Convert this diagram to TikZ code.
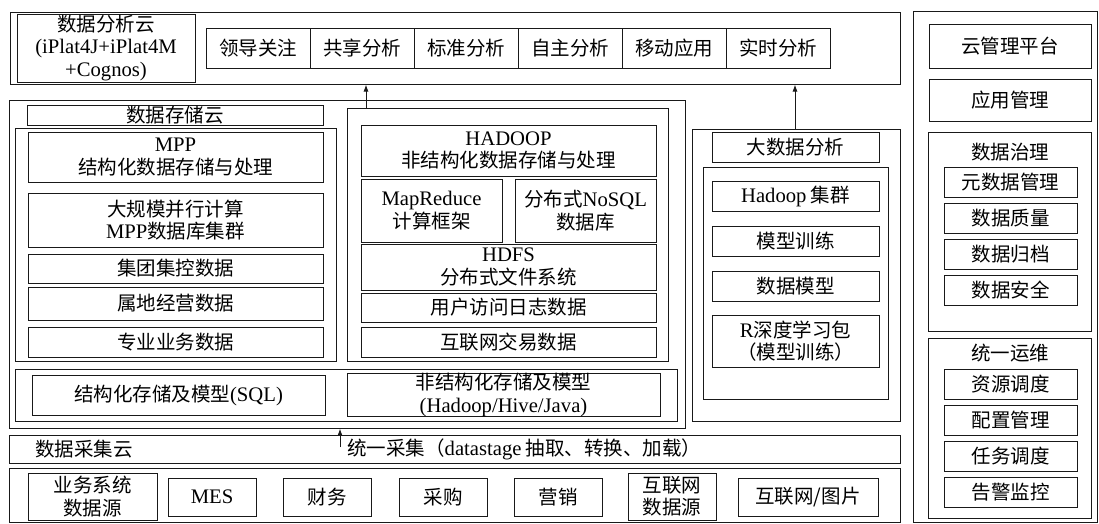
\documentclass[tikz,border=0pt]{standalone}
\usepackage{fontspec}
\setmainfont{Noto Sans CJK SC}
\newfontfamily\tm[Scale=1.06]{Liberation Serif}
\usetikzlibrary{arrows.meta}
\tikzset{
  bx/.style={draw=black!90, line width=1pt, inner sep=0pt, align=center, font=\fontsize{19.5}{22.5}\selectfont},
  lbl/.style={inner sep=0pt, font=\fontsize{19.5}{22.5}\selectfont},
  arr/.style={draw=black!90, line width=1pt, -{Latex[length=7pt,width=5pt]}},
}
\newcommand\bx[6]{\node[bx, minimum width={#4-#2}, minimum height={#5-#3}] (#1) at ({(#2+#4)/2},{(#3+#5)/2}) {#6};}
\begin{document}
\begin{tikzpicture}[x=1pt,y=-1pt]
\fill[white] (0,0) rectangle (1099,523);
\useasboundingbox (0,0) rectangle (1099,523);
% top analysis cloud
\bx{top}{10}{12}{900}{84}{}
\bx{ana}{17}{14}{195}{82}{数据分析云\\{\tm (iPlat4J+iPlat4M}\\{\tm +Cognos)}}
\bx{t1}{206}{28}{310}{68}{领导关注}
\bx{t2}{310}{28}{414}{68}{共享分析}
\bx{t3}{414}{28}{518}{68}{标准分析}
\bx{t4}{518}{28}{622}{68}{自主分析}
\bx{t5}{622}{28}{726}{68}{移动应用}
\bx{t6}{726}{28}{830}{68}{实时分析}
% storage cloud
\bx{sto}{9}{100}{685}{428}{}
\bx{stol}{27}{105}{323}{125}{数据存储云}
\bx{colL}{15}{128}{336}{361}{}
\bx{mpp}{28}{132}{323}{182}{{\tm MPP}\\结构化数据存储与处理}
\bx{mppc}{28}{193}{323}{247}{大规模并行计算\\{\tm MPP}数据库集群}
\bx{jt}{28}{254}{323}{283}{集团集控数据}
\bx{sd}{28}{287}{323}{320}{属地经营数据}
\bx{zy}{28}{327}{323}{357}{专业业务数据}
\bx{colR}{347}{108}{668}{361}{}
\bx{hdp}{361}{125}{656}{176}{{\tm HADOOP}\\非结构化数据存储与处理}
\bx{mr}{361}{179}{502}{242}{{\tm MapReduce}\\计算框架}
\bx{nosql}{515}{179}{656}{242}{分布式{\tm NoSQL}\\数据库}
\bx{hdfs}{361}{244}{656}{290}{{\tm HDFS}\\分布式文件系统}
\bx{log}{361}{293}{656}{322}{用户访问日志数据}
\bx{web}{361}{327}{656}{357}{互联网交易数据}
\bx{mdl}{15}{369}{677}{421}{}
\bx{sql}{32}{375}{325}{415}{结构化存储及模型{\tm (SQL)}}
\bx{nsql}{347}{375}{660}{415}{非结构化存储及模型\\{\tm (Hadoop/Hive/Java)}}
% big data
\bx{bd}{692}{129}{900}{421}{}
\bx{bdl}{712}{132}{879}{162}{大数据分析}
\bx{bdi}{703}{167}{888}{399}{}
\bx{hc}{712}{181}{879}{211}{{\tm Hadoop} 集群}
\bx{mx}{712}{226}{879}{256}{模型训练}
\bx{sm}{712}{271}{879}{301}{数据模型}
\bx{rd}{712}{315}{879}{367}{{\tm R}深度学习包\\（模型训练）}
% collection
\bx{col}{9}{435}{900}{463}{}
\node[lbl, anchor=west] (coll) at (35,449) {数据采集云};
\node[lbl, anchor=west] (colt) at (347,449) {统一采集（{\tm datastage} 抽取、转换、加载）};
% sources
\bx{src}{9}{468}{900}{522}{}
\bx{s1}{28}{473}{157}{520}{业务系统\\数据源}
\bx{s2}{168}{478}{256}{516}{{\tm MES}}
\bx{s3}{283}{478}{371}{516}{财务}
\bx{s4}{399}{478}{487}{516}{采购}
\bx{s5}{514}{478}{602}{516}{营销}
\bx{s6}{628}{473}{716}{520}{互联网\\数据源}
\bx{s7}{738}{478}{878}{516}{互联网/图片}
% right panel
\bx{rp}{913}{11}{1097}{522}{}
\bx{cm}{929}{24}{1091}{68}{云管理平台}
\bx{am}{929}{79}{1091}{121}{应用管理}
\bx{gov}{928}{132}{1091}{331}{}
\node[lbl] (govl) at (1010,152) {数据治理};
\bx{g1}{944}{167}{1077}{197}{元数据管理}
\bx{g2}{944}{203}{1077}{233}{数据质量}
\bx{g3}{944}{239}{1077}{269}{数据归档}
\bx{g4}{944}{275}{1077}{305}{数据安全}
\bx{ops}{928}{338}{1091}{518}{}
\node[lbl] (opsl) at (1010,353) {统一运维};
\bx{o1}{944}{369}{1077}{399}{资源调度}
\bx{o2}{944}{405}{1077}{435}{配置管理}
\bx{o3}{944}{441}{1077}{471}{任务调度}
\bx{o4}{944}{477}{1077}{507}{告警监控}
% arrows
\coordinate (a1) at (366,108);
\coordinate (a2) at (795,129);
\coordinate (a3) at (340,447);
\draw[arr] (a1) -- (a1 |- top.south);
\draw[arr] (a2) -- (a2 |- top.south);
\draw[arr] (a3) -- (a3 |- sto.south);
\end{tikzpicture}
\end{document}
